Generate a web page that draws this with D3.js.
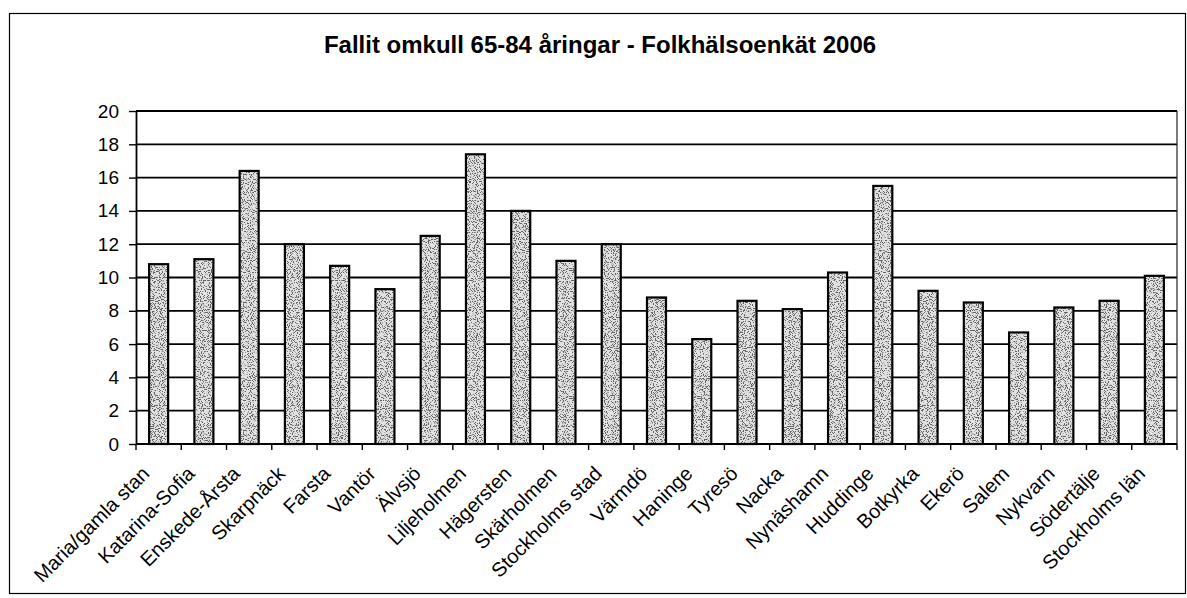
<!DOCTYPE html>
<html><head><meta charset="utf-8">
<script src="https://cdn.jsdelivr.net/npm/d3@7"></script>
<style>body{margin:0;background:#fff} svg{display:block}</style>
</head><body><svg id="c" width="1187" height="598"></svg>
<script>
const titleText = "Fallit omkull 65-84 åringar - Folkhälsoenkät 2006";
const categories = ["Maria/gamla stan","Katarina-Sofia","Enskede-Årsta","Skarpnäck","Farsta","Vantör","Älvsjö","Liljeholmen","Hägersten","Skärholmen","Stockholms stad","Värmdö","Haninge","Tyresö","Nacka","Nynäshamn","Huddinge","Botkyrka","Ekerö","Salem","Nykvarn","Södertälje","Stockholms län"];
const values = [10.8, 11.1, 16.4, 12.0, 10.7, 9.3, 12.5, 17.4, 14.0, 11.0, 12.0, 8.8, 6.3, 8.6, 8.1, 10.3, 15.5, 9.2, 8.5, 6.7, 8.2, 8.6, 10.1];
const yTicks = [0, 2, 4, 6, 8, 10, 12, 14, 16, 18, 20];

(function(){
const svg = d3.select("#c");
const pLeft = 136, pRight = 1177, pTop = 111, pBottom = 444;
const font = "'Liberation Sans', Arial, sans-serif";

const defs = svg.append("defs");
const f = defs.append("filter").attr("id","noiseF").attr("x",0).attr("y",0).attr("width","100%").attr("height","100%");
f.append("feTurbulence").attr("type","fractalNoise").attr("baseFrequency",0.9).attr("numOctaves",1).attr("seed",7).attr("stitchTiles","stitch").attr("result","t");
f.append("feColorMatrix").attr("in","t").attr("type","matrix")
  .attr("values","0 0 0 0 0.12  0 0 0 0 0.12  0 0 0 0 0.12  -14 0 0 0 6.6");
const pat = defs.append("pattern").attr("id","stip").attr("patternUnits","userSpaceOnUse").attr("width",128).attr("height",128);
pat.append("rect").attr("width",128).attr("height",128).attr("fill","#e2e2e2");
pat.append("rect").attr("width",128).attr("height",128).attr("filter","url(#noiseF)");

// outer border
svg.append("rect").attr("x",9.5).attr("y",13.5).attr("width",1176).attr("height",580)
  .attr("fill","none").attr("stroke","#000").attr("stroke-width",1.2);

// title
svg.append("text").attr("x",600).attr("y",53).attr("text-anchor","middle")
  .attr("font-family",font).attr("font-weight","bold").attr("font-size",24)
  .attr("fill","#000").text(titleText);

const x = d3.scaleBand().domain(categories).range([pLeft, pRight]).paddingInner(0.58).paddingOuter(0.29);
const y = d3.scaleLinear().domain([0, 20]).range([pBottom, pTop]);

// gridlines
svg.append("g").selectAll("line").data(yTicks.filter(d => d > 0)).join("line")
  .attr("x1", pLeft).attr("x2", pRight).attr("y1", d => y(d)).attr("y2", d => y(d))
  .attr("stroke","#000").attr("stroke-width",1.8);

// right plot border
svg.append("line").attr("x1",pRight).attr("x2",pRight).attr("y1",y(20)).attr("y2",y(0))
  .attr("stroke","#222").attr("stroke-width",1.2);

// bars
svg.append("g").selectAll("rect").data(values).join("rect")
  .attr("x", (d,i) => x(categories[i]))
  .attr("y", d => y(d))
  .attr("width", x.bandwidth())
  .attr("height", d => y(0) - y(d))
  .attr("fill","url(#stip)").attr("stroke","#000").attr("stroke-width",2.2);

// y axis
const yAxis = svg.append("g").attr("transform",`translate(${pLeft},0)`)
  .call(d3.axisLeft(y).tickValues(yTicks).tickSize(7).tickSizeOuter(0).tickPadding(10));
yAxis.select(".domain").attr("stroke","#000").attr("stroke-width",1.8);
yAxis.selectAll(".tick line").attr("stroke","#000").attr("stroke-width",1.4);
yAxis.selectAll(".tick text").attr("font-family",font).attr("font-size",19).attr("fill","#000");

// x axis baseline and boundary ticks
const step = x.step();
const bounds = categories.map(c => x(c) - (step - x.bandwidth())/2).concat([pRight]);
svg.append("line").attr("x1",pLeft).attr("x2",pRight).attr("y1",y(0)).attr("y2",y(0))
  .attr("stroke","#000").attr("stroke-width",2);
svg.append("g").selectAll("line").data(bounds).join("line")
  .attr("x1",d=>d).attr("x2",d=>d).attr("y1",y(0)).attr("y2",y(0)+6)
  .attr("stroke","#000").attr("stroke-width",1.4);

// x labels
svg.append("g").selectAll("text").data(categories).join("text")
  .attr("transform", d => `translate(${x(d) + x.bandwidth()/2 - 8},${y(0)+31}) rotate(-45)`)
  .attr("text-anchor","end")
  .attr("font-family",font).attr("font-size",20).attr("fill","#000")
  .text(d => d);
})();
</script></body></html>
